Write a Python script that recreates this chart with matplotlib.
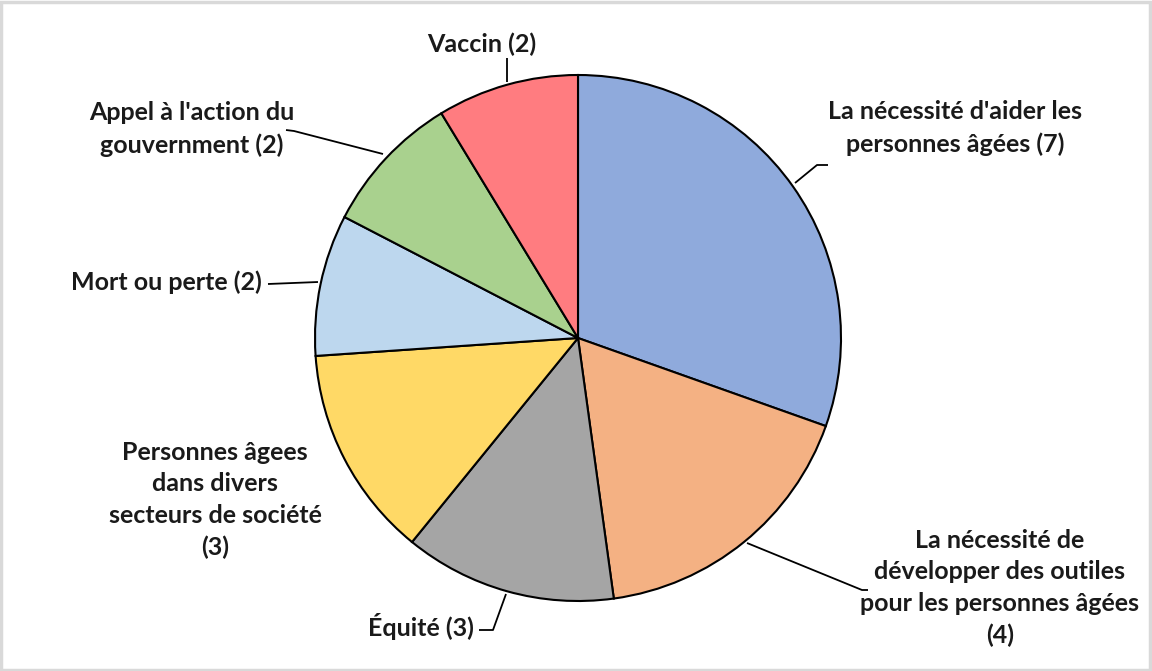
import numpy as np
import matplotlib
matplotlib.use('agg')
import matplotlib.pyplot as plt
from matplotlib.patches import Rectangle

labels = [
    "La nécessité d'aider les\npersonnes âgées (7)",
    "La nécessité de\ndévelopper des outiles\npour les personnes âgées\n(4)",
    "Équité (3)",
    "Personnes âgees\ndans divers\nsecteurs de société\n(3)",
    "Mort ou perte (2)",
    "Appel à l'action du\ngouvernment (2)",
    "Vaccin (2)",
]
values = [7, 4, 3, 3, 2, 2, 2]
colors = ["#8faadc", "#f4b183", "#a5a5a5", "#ffd966",
          "#bdd7ee", "#a9d18e", "#ff7c80"]

# label centres and leader lines, in image pixels (x right, y down)
label_pos = [(955, 128), (1000, 588), (421, 627), (215, 500),
             (166, 282), (192, 129), (482, 44)]
leaders = [
    [(795, 183), (817, 165), (828, 165)],
    [(747, 543), (862, 590), (868, 590)],
    [(506, 594), (493, 630), (479, 630)],
    None,
    [(318, 282), (268, 284)],
    [(383, 154), (294, 131), (286, 130)],
    [(507, 82), (507, 58)],
]

W, H = 1152, 671
cx, cy, R = 578, 338, 263


def to_data(px, py):
    return (px - cx) / R, (cy - py) / R


fig = plt.figure(figsize=(W / 100, H / 100), dpi=100)
ax = fig.add_axes([0, 0, 1, 1])
ax.pie(values, colors=colors, startangle=90, counterclock=False,
       wedgeprops=dict(edgecolor="black", linewidth=1.5))
ax.set_xlim(-cx / R, (W - cx) / R)
ax.set_ylim(-(H - cy) / R, cy / R)
ax.set_aspect('equal')
ax.axis('off')

for lab, (px, py), ld in zip(labels, label_pos, leaders):
    x, y = to_data(px, py)
    ax.text(x, y, lab, ha='center', va='center', multialignment='center',
            fontsize=18, fontweight='bold', family='Lato',
            color='#1a1a1a', linespacing=1.45)
    if ld is not None:
        pts = np.array([to_data(*p) for p in ld])
        ax.plot(pts[:, 0], pts[:, 1], color='black', lw=1.3,
                solid_capstyle='butt')

fig.patches.append(Rectangle((0.001, 0.001), 0.997, 0.996,
                             transform=fig.transFigure, fill=False,
                             edgecolor='#d9d9d9', lw=2.5))

fig.savefig('out.png', dpi=100, facecolor='w')
